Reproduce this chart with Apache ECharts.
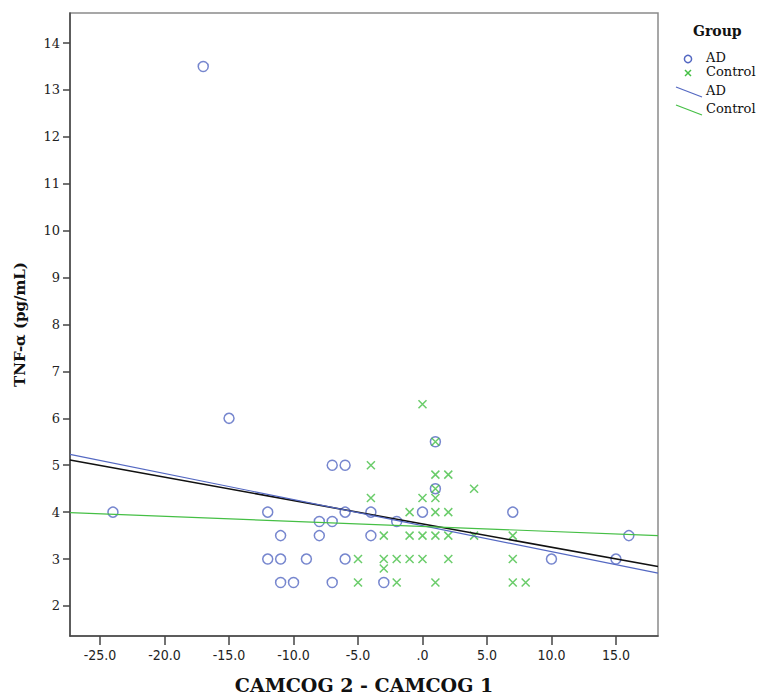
<!DOCTYPE html>
<html>
<head>
<meta charset="utf-8">
<script src="https://cdn.jsdelivr.net/npm/echarts@6/dist/echarts.min.js"></script>
<style>
  html, body { margin: 0; padding: 0; background: #fff; }
  #chart { width: 761px; height: 699px; }
</style>
</head>
<body>
<div id="chart"></div>
<script>
// AD group: [change in CAMCOG, TNF-a]
var adPoints = [
  [-17, 13.5], [-15, 6], [1, 5.5], [-7, 5], [-6, 5], [1, 4.5],
  [-24, 4], [-12, 4], [-6, 4], [-4, 4], [0, 4], [7, 4],
  [-8, 3.8], [-7, 3.8], [-2, 3.8],
  [-11, 3.5], [-8, 3.5], [-4, 3.5], [16, 3.5],
  [-12, 3], [-11, 3], [-9, 3], [-6, 3], [10, 3], [15, 3],
  [-11, 2.5], [-10, 2.5], [-7, 2.5], [-3, 2.5]
]
// Control group
var controlPoints = [
  [0, 6.3], [1, 5.5], [-4, 5], [1, 4.8], [2, 4.8], [1, 4.5], [4, 4.5],
  [-4, 4.3], [0, 4.3], [1, 4.3], [-1, 4], [1, 4], [2, 4],
  [-3, 3.5], [-1, 3.5], [0, 3.5], [1, 3.5], [2, 3.5], [4, 3.5], [7, 3.5],
  [-5, 3], [-3, 3], [-2, 3], [-1, 3], [0, 3], [2, 3], [7, 3], [-3, 2.8],
  [-5, 2.5], [-2, 2.5], [1, 2.5], [7, 2.5], [8, 2.5]
]
// fit lines, end points read at the plot edges
var fitTotal = [[-27.33, 5.11], [18.26, 2.84]]
var fitAD = [[-27.33, 5.23], [18.26, 2.70]]
var fitControl = [[-27.33, 3.99], [18.26, 3.50]]

var xMin = -27.33, xMax = 18.26
var yMin = 1.36, yMax = 14.64
var xTicks = [-25, -20, -15, -10, -5, 0, 5, 10, 15]
var xTickLabels = ['-25.0', '-20.0', '-15.0', '-10.0', '-5.0', '.0', '5.0', '10.0', '15.0']
var yTicks = [2, 3, 4, 5, 6, 7, 8, 9, 10, 11, 12, 13, 14]

var blue = '#5468c2'
var green = '#45bf45'
var serif = 'DejaVu Serif'

var chart = echarts.init(document.getElementById('chart'), null, {renderer: 'svg'})
var option = {
  backgroundColor: '#fff',
  animation: false,
  grid: {
    left: 70, top: 13, width: 588, height: 627,
    show: true, borderColor: '#8a8a8a', borderWidth: 1.5
  },
  xAxis: {
    type: 'value',
    min: xMin, max: xMax,
    name: 'CAMCOG 2 - CAMCOG 1',
    nameLocation: 'middle',
    nameGap: 39,
    nameTextStyle: {fontFamily: serif, fontWeight: 'bold', fontSize: 19, color: '#111'},
    splitLine: {show: false},
    axisLine: {show: true, onZero: false, lineStyle: {color: '#444', width: 1.5}},
    axisTick: {show: true, length: 9, customValues: xTicks, lineStyle: {color: '#444', width: 1.5}},
    axisLabel: {
      customValues: xTicks,
      margin: 12,
      fontFamily: 'DejaVu Sans Condensed, DejaVu Sans',
      fontSize: 14,
      color: '#222',
      formatter: function (v) {
        var i = xTicks.indexOf(v)
        return i >= 0 ? xTickLabels[i] : ''
      }
    }
  },
  yAxis: {
    type: 'value',
    min: yMin, max: yMax,
    name: 'TNF-α (pg/mL)',
    nameLocation: 'middle',
    nameGap: 43,
    nameTextStyle: {fontFamily: serif, fontWeight: 'bold', fontSize: 15, color: '#111'},
    splitLine: {show: false},
    axisLine: {show: true, onZero: false, lineStyle: {color: '#444', width: 1.5}},
    axisTick: {show: true, length: 7, customValues: yTicks, lineStyle: {color: '#444', width: 1.5}},
    axisLabel: {
      customValues: yTicks,
      margin: 10,
      fontFamily: serif,
      fontSize: 13,
      color: '#222'
    }
  },
  series: [
    {
      name: 'AD',
      type: 'scatter',
      data: adPoints,
      symbol: 'circle',
      symbolSize: 10,
      itemStyle: {color: 'rgba(0,0,0,0)', borderColor: blue, borderWidth: 1.5}
    },
    {
      name: 'Control',
      type: 'scatter',
      data: controlPoints,
      symbol: 'path://M0,0L10,10M10,0L0,10',
      symbolSize: 8,
      itemStyle: {color: 'rgba(0,0,0,0)', borderColor: green, borderWidth: 1.5}
    },
    {
      name: 'Total fit',
      type: 'line',
      data: fitTotal,
      symbol: 'none',
      silent: true,
      lineStyle: {color: '#111', width: 1.6}
    },
    {
      name: 'AD fit',
      type: 'line',
      data: fitAD,
      symbol: 'none',
      silent: true,
      lineStyle: {color: blue, width: 1.2}
    },
    {
      name: 'Control fit',
      type: 'line',
      data: fitControl,
      symbol: 'none',
      silent: true,
      lineStyle: {color: green, width: 1.2}
    }
  ],
  // legend drawn by hand (sloped line icons)
  graphic: [
    {type: 'text', left: 693, top: 24, style: {text: 'Group', font: 'bold 14px DejaVu Serif', fill: '#111'}},
    {type: 'circle', shape: {cx: 688, cy: 59, r: 3.6}, style: {fill: 'none', stroke: blue, lineWidth: 1.5}},
    {type: 'text', left: 706, top: 51, style: {text: 'AD', font: '13px DejaVu Serif', fill: '#111'}},
    {type: 'line', shape: {x1: 685, y1: 70, x2: 691, y2: 76}, style: {stroke: green, lineWidth: 1.5}},
    {type: 'line', shape: {x1: 691, y1: 70, x2: 685, y2: 76}, style: {stroke: green, lineWidth: 1.5}},
    {type: 'text', left: 706, top: 65, style: {text: 'Control', font: '13px DejaVu Serif', fill: '#111'}},
    {type: 'line', shape: {x1: 676, y1: 87, x2: 702, y2: 97}, style: {stroke: blue, lineWidth: 1.2}},
    {type: 'text', left: 706, top: 84, style: {text: 'AD', font: '13px DejaVu Serif', fill: '#111'}},
    {type: 'line', shape: {x1: 676, y1: 105, x2: 702, y2: 115}, style: {stroke: green, lineWidth: 1.2}},
    {type: 'text', left: 706, top: 102, style: {text: 'Control', font: '13px DejaVu Serif', fill: '#111'}}
  ]
}
chart.setOption(option)
</script>
</body>
</html>
